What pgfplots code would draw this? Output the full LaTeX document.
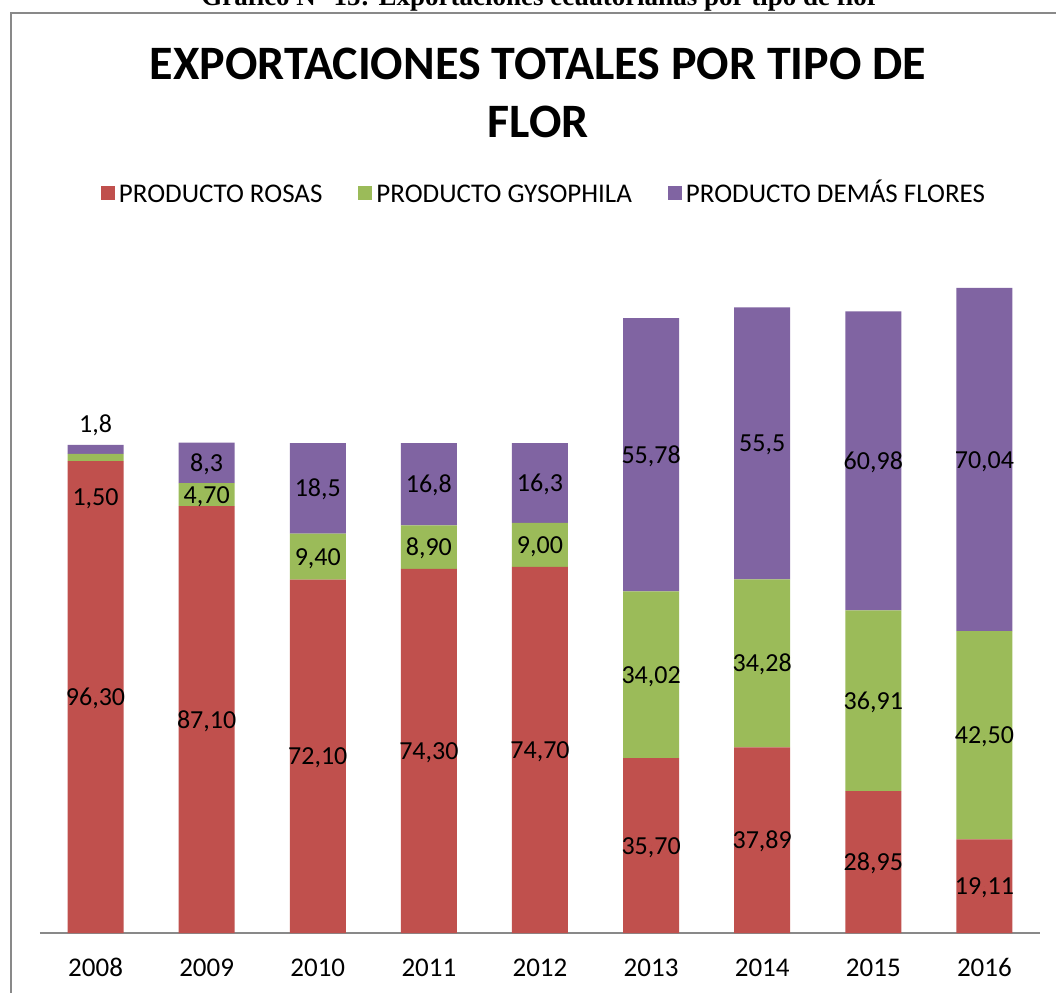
\documentclass[border=0pt]{standalone}
\usepackage{pgfplots}
\pgfplotsset{compat=1.18}
\usepackage{pgfplotstable}
\usepackage{fontspec}
\setmainfont{Carlito}
\newfontfamily\capfont{Liberation Serif}
\definecolor{cRosas}{HTML}{C0504D}
\definecolor{cGyso}{HTML}{9BBB59}
\definecolor{cDemas}{HTML}{8064A2}
\definecolor{cFrame}{HTML}{898989}

\pgfplotstableread{
x rosas gyso demas
0 96.30 1.50 1.8
1 87.10 4.70 8.3
2 72.10 9.40 18.5
3 74.30 8.90 16.8
4 74.70 9.00 16.3
5 35.70 34.02 55.78
6 37.89 34.28 55.5
7 28.95 36.91 60.98
8 19.11 42.50 70.04
}\datatable

\pgfplotstableread{
x y label
0 48.15 96,30
0 89.0 1,50
0 103.9 1,8
1 43.55 87,10
1 89.45 4,70
1 95.95 8,3
2 36.05 72,10
2 76.8 9,40
2 90.75 18,5
3 37.15 74,30
3 78.75 8,90
3 91.6 16,8
4 37.35 74,70
4 79.2 9,00
4 91.85 16,3
5 17.85 35,70
5 52.71 34,02
5 97.61 55,78
6 18.945 37,89
6 55.03 34,28
6 99.92 55,5
7 14.475 28,95
7 47.405 36,91
7 96.35 60,98
8 9.555 19,11
8 40.36 42,50
8 96.63 70,04
}\labeltable

\begin{document}
\begin{tikzpicture}
\clip (0pt,0pt) rectangle (528pt,-496pt);
\fill[white] (0pt,0pt) rectangle (528pt,-496pt);
\draw[cFrame, line width=1pt] (5.25pt,-6.5pt) rectangle (540pt,-510pt);
\node[anchor=base, font=\capfont\bfseries\fontsize{13.5}{16}\selectfont] at (270pt,-2.5pt) {Gráfico N° 15: Exportaciones ecuatorianas por tipo de flor};
\node[anchor=base, font=\bfseries\fontsize{24}{29}\selectfont] at (269pt,-39.5pt) {EXPORTACIONES TOTALES POR TIPO DE};
\node[anchor=base, font=\bfseries\fontsize{24}{29}\selectfont] at (269pt,-68.5pt) {FLOR};

\begin{axis}[
  at={(20pt,-466.5pt)}, anchor=south west,
  scale only axis, width=500pt, height=343pt,
  xmin=-0.5, xmax=8.5, ymin=0, ymax=140,
  ybar stacked, bar width=28pt,
  axis x line*=bottom, axis y line=none,
  x axis line style={cFrame, line width=1pt, -},
  xtick={0,...,8},
  xticklabels={2008,2009,2010,2011,2012,2013,2014,2015,2016},
  major tick length=0pt,
  xticklabel style={anchor=base, yshift=-21.5pt, font=\fontsize{13.5}{16}\selectfont},
  legend columns=3,
  legend style={at={(0.505,1.0787)}, anchor=center, draw=none, fill=none,
    font=\fontsize{13.5}{16}\selectfont,
    nodes={text height=9.5pt, text depth=0pt, inner sep=2pt},
    /tikz/every even column/.append style={column sep=16pt}},
  legend image code/.code={\fill[#1] (0pt,-3.5pt) rectangle (7pt,3.5pt);},
]
\addplot[fill=cRosas, draw=none] table[x=x, y=rosas] {\datatable};
\addplot[fill=cGyso, draw=none] table[x=x, y=gyso] {\datatable};
\addplot[fill=cDemas, draw=none] table[x=x, y=demas] {\datatable};
\legend{PRODUCTO ROSAS, PRODUCTO GYSOPHILA, PRODUCTO DEMÁS FLORES}
\end{axis}

\begin{axis}[
  at={(20pt,-466.5pt)}, anchor=south west,
  scale only axis, width=500pt, height=343pt,
  xmin=-0.5, xmax=8.5, ymin=0, ymax=140,
  hide axis,
]
\addplot[only marks, mark=*, mark size=0pt, mark options={draw=none, fill=none},
  point meta=explicit symbolic, nodes near coords,
  every node near coord/.append style={anchor=center, text=black, text height=8.5pt, text depth=0pt, font=\fontsize{13}{15}\selectfont}]
  table[x=x, y=y, meta=label] {\labeltable};
\end{axis}
\end{tikzpicture}
\end{document}
